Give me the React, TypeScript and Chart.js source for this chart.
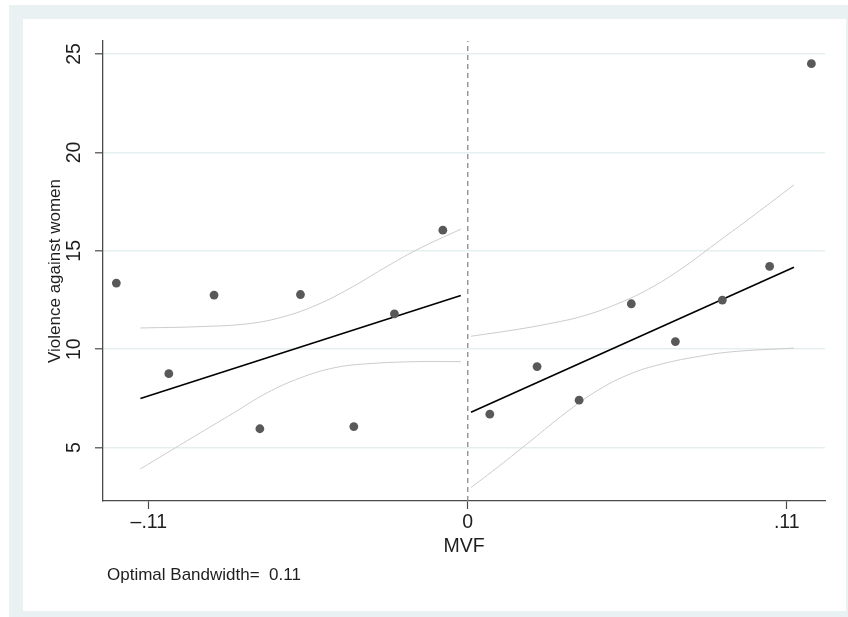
import React, { useEffect, useRef } from "react";
import { Chart, registerables } from "chart.js";

Chart.register(...registerables);

// ---- data ----
const leftBinX = [-0.1212, -0.1031, -0.0875, -0.0717, -0.0577, -0.0393, -0.0253, -0.0086];
const leftBinY = [13.36, 8.76, 12.75, 5.96, 12.78, 6.07, 11.8, 16.05];
const rightBinX = [0.0076, 0.0239, 0.0384, 0.0564, 0.0716, 0.0878, 0.1041, 0.1185];
const rightBinY = [6.7, 9.12, 7.41, 12.31, 10.39, 12.5, 14.21, 24.51];

const leftFitX = [-0.1129, -0.0024];
const leftFitY = [7.5, 12.73];
const rightFitX = [0.0011, 0.1125];
const rightFitY = [6.8, 14.17];

const leftUpperX = [-0.1129, -0.0923, -0.0755, -0.0636, -0.0521, -0.0406, -0.0291, -0.0176, -0.0024];
const leftUpperY = [11.08, 11.15, 11.3, 11.65, 12.25, 13.1, 14.1, 15.05, 16.1];
const leftLowerX = [-0.1129, -0.1038, -0.0923, -0.0808, -0.0693, -0.0578, -0.0463, -0.0348, -0.0176, -0.0024];
const leftLowerY = [3.92, 4.73, 5.75, 6.76, 7.78, 8.54, 9.05, 9.26, 9.37, 9.37];

const rightUpperX = [0.0011, 0.0163, 0.0278, 0.0393, 0.0508, 0.0623, 0.0738, 0.0853, 0.0968, 0.1125];
const rightUpperY = [10.66, 10.99, 11.29, 11.67, 12.26, 13.05, 14.1, 15.35, 16.6, 18.35];
const rightLowerX = [0.0011, 0.0106, 0.0221, 0.0336, 0.045, 0.0566, 0.068, 0.0795, 0.091, 0.1125];
const rightLowerY = [2.97, 4.04, 5.39, 6.75, 7.93, 8.78, 9.29, 9.63, 9.87, 10.06];

const cutoffX = [0, 0];
const cutoffY = [2.29, 25.66];

const xTickValues = [-0.11, 0, 0.11];
const xTickLabels = ["\u2013.11", "0", ".11"];
const yTickValues = [5, 10, 15, 20, 25];
const yTickLabels = ["5", "10", "15", "20", "25"];

const xTitle = "MVF";
const yTitle = "Violence against women";
const noteText = "Optimal Bandwidth=  0.11";

const X_MIN = -0.1258;
const X_MAX = 0.1232;
const Y_MIN = 2.29;
const Y_MAX = 25.66;

const FONT = '"Liberation Sans", Arial, Helvetica, sans-serif';
const TEXT = "#1e1e1e";
const AXIS = "#4a4a4a";
const BG = "#e9f1f2";

const pts = (xs: number[], ys: number[]) => xs.map((x, i) => ({ x, y: ys[i] }));

const backgroundPlugin = {
  id: "stataBackground",
  beforeDraw(chart: any) {
    const ctx = chart.ctx;
    ctx.save();
    ctx.fillStyle = "#ffffff";
    ctx.fillRect(0, 0, chart.width, chart.height);
    ctx.fillStyle = BG;
    ctx.fillRect(9, 5, chart.width - 9, chart.height - 5);
    ctx.fillStyle = "#ffffff";
    ctx.fillRect(23, 19, 823, 592);
    ctx.restore();
  },
};

const textPlugin = {
  id: "stataText",
  afterDraw(chart: any) {
    const ctx = chart.ctx;
    const xs = chart.scales.x;
    const ys = chart.scales.y;
    const area = chart.chartArea;
    ctx.save();
    ctx.fillStyle = TEXT;
    ctx.textBaseline = "middle";
    ctx.textAlign = "center";

    // y tick labels (rotated)
    ctx.font = `19.5px ${FONT}`;
    yTickValues.forEach((v, i) => {
      const py = ys.getPixelForValue(v);
      ctx.save();
      ctx.translate(75, py);
      ctx.rotate(-Math.PI / 2);
      ctx.fillText(yTickLabels[i], 0, 0);
      ctx.restore();
    });

    // x tick labels
    xTickValues.forEach((v, i) => {
      ctx.fillText(xTickLabels[i], xs.getPixelForValue(v), 523);
    });

    // x title
    ctx.fillText(xTitle, (area.left + area.right) / 2, 547);

    // y title
    ctx.font = `17px ${FONT}`;
    ctx.save();
    ctx.translate(55, (area.top + area.bottom) / 2);
    ctx.rotate(-Math.PI / 2);
    ctx.fillText(yTitle, 0, 0);
    ctx.restore();

    // note
    ctx.textAlign = "left";
    ctx.fillText(noteText, 107, 575);
    ctx.restore();
  },
};

export default function App() {
  const canvasRef = useRef<HTMLCanvasElement | null>(null);

  useEffect(() => {
    if (!canvasRef.current) return;
    const dot = {
      type: "scatter" as const,
      showLine: false,
      pointRadius: 4.4,
      pointBackgroundColor: "#595959",
      pointBorderWidth: 0,
      order: 0,
    };
    const fit = {
      type: "scatter" as const,
      showLine: true,
      pointRadius: 0,
      borderColor: "#000000",
      borderWidth: 1.6,
      order: 1,
    };
    const ci = {
      type: "scatter" as const,
      showLine: true,
      pointRadius: 0,
      borderColor: "#cccccc",
      borderWidth: 1,
      tension: 0.4,
      order: 2,
    };
    const chart = new Chart(canvasRef.current, {
      type: "scatter",
      data: {
        datasets: [
          { ...dot, data: pts(leftBinX, leftBinY) },
          { ...dot, data: pts(rightBinX, rightBinY) },
          { ...fit, data: pts(leftFitX, leftFitY) },
          { ...fit, data: pts(rightFitX, rightFitY) },
          { ...ci, data: pts(leftUpperX, leftUpperY) },
          { ...ci, data: pts(leftLowerX, leftLowerY) },
          { ...ci, data: pts(rightUpperX, rightUpperY) },
          { ...ci, data: pts(rightLowerX, rightLowerY) },
          {
            type: "scatter",
            showLine: true,
            pointRadius: 0,
            borderColor: "#8a8a8a",
            borderWidth: 1.3,
            borderDash: [5, 4],
            order: 3,
            data: pts(cutoffX, cutoffY),
          },
        ] as any,
      },
      options: {
        animation: false,
        responsive: false,
        devicePixelRatio: 1,
        events: [],
        layout: { padding: { left: 23, top: 41, right: 23, bottom: 6 } },
        plugins: {
          legend: { display: false },
          tooltip: { enabled: false },
          title: { display: false },
        },
        scales: {
          x: {
            type: "linear",
            min: X_MIN,
            max: X_MAX,
            afterBuildTicks: (s: any) => {
              s.ticks = xTickValues.map((v) => ({ value: v }));
            },
            afterFit: (s: any) => {
              s.height = 110;
            },
            ticks: { display: false },
            grid: {
              drawOnChartArea: false,
              drawTicks: true,
              tickLength: 8,
              tickColor: AXIS,
              tickWidth: 1.2,
            },
            border: { display: true, color: AXIS, width: 1.3 },
          },
          y: {
            type: "linear",
            min: Y_MIN,
            max: Y_MAX,
            afterBuildTicks: (s: any) => {
              s.ticks = yTickValues.map((v) => ({ value: v }));
            },
            afterFit: (s: any) => {
              s.width = 80;
            },
            ticks: { display: false },
            grid: {
              color: "#e6eff0",
              lineWidth: 1.6,
              drawTicks: true,
              tickLength: 8,
              tickColor: AXIS,
              tickWidth: 1.2,
            },
            border: { display: true, color: AXIS, width: 1.3 },
          },
        },
      },
      plugins: [backgroundPlugin, textPlugin],
    });
    return () => chart.destroy();
  }, []);

  return (
    <div style={{ position: "absolute", left: 0, top: 0, width: 848, height: 617 }}>
      <canvas ref={canvasRef} width={848} height={617} style={{ display: "block", width: 848, height: 617 }} />
    </div>
  );
}
